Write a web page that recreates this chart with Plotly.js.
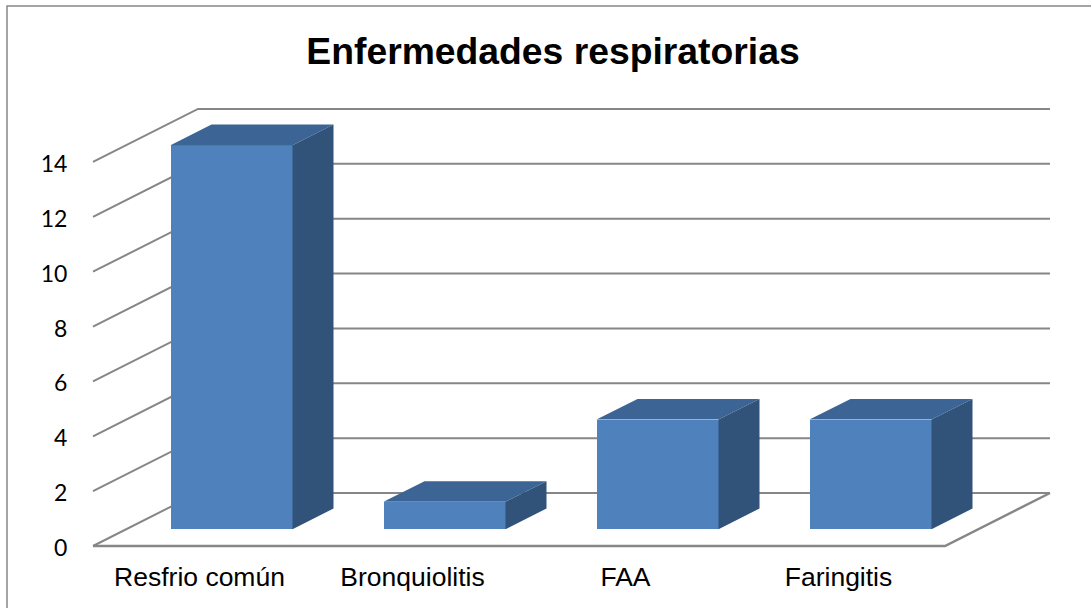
<!DOCTYPE html>
<html>
<head>
<meta charset="utf-8">
<script src="https://cdn.plot.ly/plotly-3.0.1.min.js"></script>
<style>html,body{margin:0;padding:0;background:#fff;overflow:hidden}#chart{width:1091px;height:608px}</style>
</head>
<body>
<div id="chart"></div>
<script>
const categories = ["Resfrio común", "Bronquiolitis", "FAA", "Faringitis"];
const values = [14, 1, 4, 4];
const yTicks = [0, 2, 4, 6, 8, 10, 12, 14];
const chartTitle = "Enfermedades respiratorias";

// Oblique projection, in axis units
const W = 1091, H = 608;
const pxPerCat = 213, pxPerVal = 27.43;
const wallDx = 105 / pxPerCat, wallDy = 53 / pxPerVal;      // floor depth
const barDx = 41 / pxPerCat, barDy = 20.7 / pxPerVal;       // bar depth
const barW = 122 / pxPerCat;
const barShiftX = 32 / pxPerCat, barBase = 16.7 / pxPerVal; // bar's position on the floor
const xLeft = -0.5, xFront = categories.length - 0.5;

const colFront = "#4F81BD", colTop = "#3C6494", colSide = "#31537A", colLine = "#868686";

const idx = categories.map((_, i) => i);
const front = {
  type: "bar", x: idx.map(i => i + barShiftX), y: values, base: values.map(() => barBase),
  width: barW, marker: {color: colFront, line: {width: 0}}, showlegend: false, name: "Casos"
};
const topX = [], topY = [], sideX = [], sideY = [];
idx.forEach(i => {
  const l = i + barShiftX - barW / 2, r = l + barW, t = barBase + values[i], b = barBase;
  topX.push(l, r, r + barDx, l + barDx, l, null);
  topY.push(t, t, t + barDy, t + barDy, t, null);
  sideX.push(r, r + barDx, r + barDx, r, r, null);
  sideY.push(b, b + barDy, t + barDy, t, b, null);
});
const face = (x, y, c) => ({type: "scatter", mode: "lines", x, y, fill: "toself", fillcolor: c,
  line: {width: 0, color: c}, hoverinfo: "skip", showlegend: false});

const line = (path, w) => ({type: "path", xref: "x", yref: "y", layer: "below", path,
  line: {color: colLine, width: w || 2}});
const shapes = yTicks.map(v =>
  line(`M${xLeft},${v} L${xLeft + wallDx},${v + wallDy} L${xFront + wallDx},${v + wallDy}`));
shapes.push(line(`M${xLeft},0 L${xFront},0 L${xFront + wallDx},${wallDy}`, 2.4));

const mL = 90, mR = 38, mT = 95, mB = 59;
const plotW = W - mL - mR, plotH = H - mT - mB;
// chart frame (runs past the right and bottom of the picture)
shapes.push({type: "path", xref: "paper", yref: "paper", layer: "below",
  path: `M${(7 - mL) / plotW},${-mB / plotH} L${(7 - mL) / plotW},${(H - mB - 6) / plotH} L${(W - mL) / plotW},${(H - mB - 6) / plotH}`,
  line: {color: colLine, width: 1.5}});

const layout = {
  width: W, height: H, margin: {l: mL, r: mR, t: mT, b: mB, pad: 0},
  paper_bgcolor: "#fff", plot_bgcolor: "rgba(0,0,0,0)", showlegend: false, bargap: 0,
  title: {text: chartTitle, x: 553 / W, xref: "container", xanchor: "center", y: 1 - 51 / H, yanchor: "middle",
    font: {family: "Liberation Sans", size: 37.3, color: "#000", weight: 700}},
  xaxis: {range: [xLeft - 3 / pxPerCat, xLeft + plotW / pxPerCat - 3 / pxPerCat], tickmode: "array", tickvals: idx, ticktext: categories,
    showgrid: false, zeroline: false, showline: false, ticks: "outside", ticklen: 4, tickcolor: "rgba(0,0,0,0)",
    tickfont: {family: "Liberation Sans", size: 26.5, color: "#000"}, fixedrange: true},
  yaxis: {range: [-3 / pxPerVal, plotH / pxPerVal - 3 / pxPerVal], tickmode: "array", tickvals: yTicks, ticktext: yTicks.map(String),
    showgrid: false, zeroline: false, showline: false, ticks: "outside", ticklen: 17, tickcolor: "rgba(0,0,0,0)", ticklabelshift: 2,
    tickfont: {family: "Lato", size: 23, color: "#000"}, fixedrange: true},
  shapes
};
Plotly.newPlot("chart", [front, face(topX, topY, colTop), face(sideX, sideY, colSide)], layout, {displayModeBar: false, staticPlot: true});
</script>
</body>
</html>
